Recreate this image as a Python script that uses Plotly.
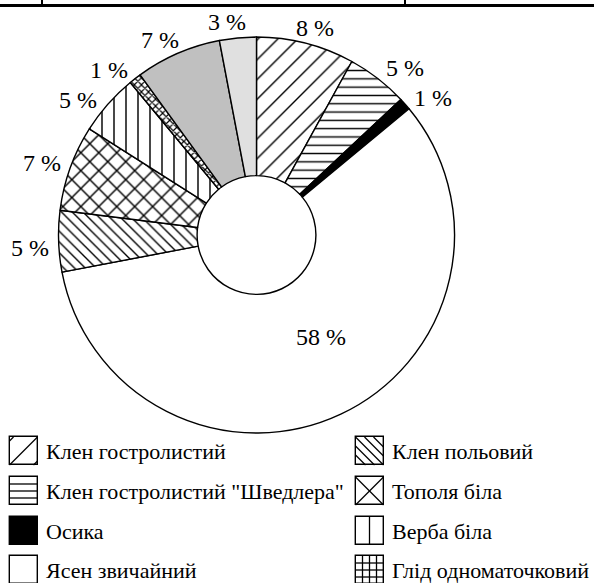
import math
import plotly.graph_objects as go

# ---------------- data ----------------
species = [
    "Клен гостролистий",
    'Клен гостролистий "Шведлера"',
    "Осика",
    "Ясен звичайний",
    "Клен польовий",
    "Тополя біла",
    "Верба біла",
    "Глід одноматочковий",
    "Інші породи (1)",
    "Інші породи (2)",
]
shares = [8, 5, 1, 58, 5, 7, 5, 1, 7, 3]
legend_left = [0, 1, 2, 3]
legend_right = [4, 5, 6, 7]

# ---------------- styles ----------------
FONT = "Liberation Serif, Times New Roman, serif"
W, H = 594, 583
CX, CY, R = 256.5, 235.0, 198.0
HOLE = 0.30

pat_shape = ["/", "-", "", "", "\\", "x", "|", "x", "", ""]
pat_size = [14, 8.3, 8, 8, 7.6, 12.7, 12, 5, 8, 8]
pat_solid = [0.1, 0.17, 0.1, 0.1, 0.18, 0.21, 0.12, 0.42, 0.1, 0.1]
colors = ["white", "white", "black", "white", "white", "white", "white", "white",
          "#c0c0c0", "#e0e0e0"]

# legend key hatch style per species (drawn inside the key box)
key_style = ["/", "-", "", "", "\\", "x", "|", "+"]

# per-label nudges (px) relative to the automatic outside placement
nudge = [(2.5, 4), (10.5, 5), (7.5, 7), (9.5, -14.7), (-1.6, 6),
         (-2.8, 2), (-9.7, 9), (-9.6, 7), (-7.2, 5), (-8.3, 4)]
inside = [False, False, False, True, False, False, False, False, False, False]

fig = go.Figure()

fig.add_trace(go.Pie(
    labels=species, values=shares, sort=False, direction="clockwise",
    rotation=0, hole=HOLE, textinfo="none", showlegend=False,
    marker=dict(colors=colors,
                line=dict(color="black", width=1.4),
                pattern=dict(shape=pat_shape, size=pat_size, solidity=pat_solid,
                             fgcolor="black", fgopacity=1, fillmode="overlay")),
    domain=dict(x=[(CX - R) / W, (CX + R) / W], y=[1 - (CY + R) / H, 1 - (CY - R) / H]),
    hoverinfo="label+percent",
))

# percent labels
total = sum(shares)
annotations = []
cum = 0
for i, v in enumerate(shares):
    th = math.radians(360 * (cum + v / 2) / total)
    cum += v
    if inside[i]:
        rm = (R * HOLE + R) / 2
        x = CX + rm * math.sin(th)
        y = CY - rm * math.cos(th)
    else:
        x = CX + 225 * math.sin(th)
        y = CY - 218 * math.cos(th)
    x += nudge[i][0]
    y += nudge[i][1]
    annotations.append(dict(x=x, y=y, xref="x", yref="y", text=f"{v} %",
                            showarrow=False, xanchor="center", yanchor="middle",
                            font=dict(family=FONT, size=24, color="black")))

# legend keys: box drawn as a bar, hatch drawn as thin lines inside the box
row_c = [451, 491, 531, 570]
S = 28
shapes = []


def seg(x0, y0, x1, y1, w=1.3):
    shapes.append(dict(type="line", xref="x", yref="y", x0=x0, y0=y0, x1=x1, y1=y1,
                       line=dict(color="black", width=w)))


cols = [(legend_left, 9.5), (legend_right, 355.5)]
for idx_list, bx in cols:
    for r, k in enumerate(idx_list):
        by = row_c[r] - S / 2
        fig.add_trace(go.Bar(
            x=[bx + S / 2], y=[S], base=[by], width=[S],
            orientation="v", showlegend=False, hoverinfo="skip",
            marker=dict(color=colors[k], line=dict(color="black", width=1.4))))
        x0, y0, x1, y1 = bx, by, bx + S, by + S
        st = key_style[k]
        if st == "/":
            seg(x0, y1, x1, y0)
            seg(x0, y0 + 4, x0 + 4, y0)
            seg(x1 - 4, y1, x1, y1 - 4)
        elif st == "-":
            for q in (1, 2, 3):
                seg(x0, y0 + S * q / 4, x1, y0 + S * q / 4)
        elif st == "\\":
            for d in (-18, -9, 0, 9, 18):
                if d >= 0:
                    seg(x0 + d, y0, x1, y1 - d)
                else:
                    seg(x0, y0 - d, x1 + d, y1)
        elif st == "x":
            seg(x0, y0, x1, y1)
            seg(x0, y1, x1, y0)
        elif st == "|":
            seg((x0 + x1) / 2, y0, (x0 + x1) / 2, y1)
        elif st == "+":
            for q in (1, 2, 3):
                seg(x0 + S * q / 4, y0, x0 + S * q / 4, y1)
                seg(x0, y0 + S * q / 4, x1, y0 + S * q / 4)
        annotations.append(dict(x=x1 + 6, y=row_c[r], xref="x", yref="y",
                                text=species[k], showarrow=False,
                                xanchor="left", yanchor="middle",
                                font=dict(family=FONT, size=22, color="black")))

# frame lines of the surrounding table at the top edge
seg(0, 5.5, W, 5.5, 3)
seg(42, 0, 42, 5.5, 2)
seg(405, 0, 405, 5.5, 2)

fig.update_layout(
    width=W, height=H, margin=dict(l=0, r=0, t=0, b=0),
    paper_bgcolor="white", plot_bgcolor="rgba(0,0,0,0)",
    xaxis=dict(range=[0, W], visible=False, fixedrange=True, domain=[0, 1]),
    yaxis=dict(range=[H, 0], visible=False, fixedrange=True, domain=[0, 1]),
    annotations=annotations, shapes=shapes, barmode="overlay", bargap=0,
    font=dict(family=FONT),
)

fig.write_html("out.html", config={"displayModeBar": False},
               post_script="document.body.style.margin='0px';"
                           "document.body.style.overflow='hidden';")
